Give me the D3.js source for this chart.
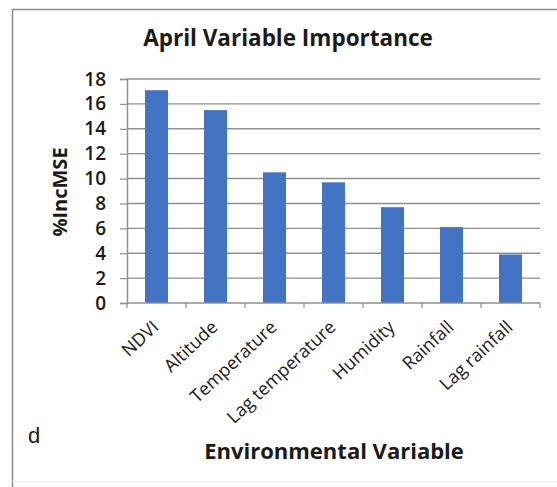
<!DOCTYPE html>
<html>
<head>
<meta charset="utf-8">
<script src="https://cdn.jsdelivr.net/npm/d3@7"></script>
<style>
  html, body { margin: 0; padding: 0; background: #fff; }
  svg { display: block; }
  text { font-family: "Open Sans", Lato, sans-serif; fill: #1a1a1a; }
</style>
</head>
<body>
<svg id="chart" width="557" height="487"></svg>
<script>
// April variable importance (%IncMSE) per environmental variable
const categories = ["NDVI", "Altitude", "Temperature", "Lag temperature", "Humidity", "Rainfall", "Lag rainfall"];
const incMSE = [17.1, 15.5, 10.5, 9.7, 7.7, 6.1, 3.9];
const yTicks = [0, 2, 4, 6, 8, 10, 12, 14, 16, 18];

const svg = d3.select("#chart");
const W = 557, H = 487;
const plot = { left: 127, right: 540, top: 79, bottom: 303 };
const axisGrey = "#8f8f8f";

// outer frame
svg.append("rect").attr("x", 0).attr("y", 0).attr("width", W).attr("height", H).attr("fill", "#fff");
svg.append("path")
  .attr("d", `M12.5,${H} V9.5 H${W}`)
  .attr("fill", "none").attr("stroke", "#8a8a8a").attr("stroke-width", 1.5);
svg.append("line")
  .attr("x1", 12).attr("x2", W).attr("y1", 481.5).attr("y2", 481.5)
  .attr("stroke", "#ececec").attr("stroke-width", 1);

const x = d3.scaleBand().domain(categories).range([plot.left, plot.right]).paddingInner(0.61).paddingOuter(0.305);
const y = d3.scaleLinear().domain([0, 18]).range([plot.bottom, plot.top]);

// horizontal gridlines
svg.append("g").selectAll("line").data(yTicks.filter(d => d > 0)).join("line")
  .attr("x1", plot.left).attr("x2", plot.right)
  .attr("y1", d => y(d)).attr("y2", d => y(d))
  .attr("stroke", axisGrey).attr("stroke-width", 1.4);

// bars
svg.append("g").selectAll("rect").data(incMSE).join("rect")
  .attr("x", (d, i) => x(categories[i]))
  .attr("width", x.bandwidth())
  .attr("y", d => y(d))
  .attr("height", d => y(0) - y(d))
  .attr("fill", "#4274c3");

// y axis
const yAxis = d3.axisLeft(y).tickValues(yTicks).tickSize(7).tickPadding(14).tickFormat(d3.format("d"));
const gy = svg.append("g").attr("transform", `translate(${plot.left},0)`).call(yAxis);
gy.select(".domain").attr("stroke", axisGrey).attr("stroke-width", 1.4);
gy.selectAll(".tick line").attr("stroke", axisGrey).attr("stroke-width", 1.2);
gy.selectAll(".tick text").style("font-size", "19px").style("font-weight", 600).attr("fill", "#1a1a1a");

// x axis: ticks sit between the categories
const step = x.step();
const sepTicks = d3.range(categories.length + 1).map(i => plot.left + i * step);
const gx = svg.append("g");
gx.append("line").attr("x1", plot.left).attr("x2", plot.right)
  .attr("y1", plot.bottom).attr("y2", plot.bottom)
  .attr("stroke", axisGrey).attr("stroke-width", 1.4);
gx.selectAll("line.sep").data(sepTicks).join("line").attr("class", "sep")
  .attr("x1", d => d).attr("x2", d => d)
  .attr("y1", plot.bottom).attr("y2", plot.bottom + 5)
  .attr("stroke", axisGrey).attr("stroke-width", 1.2);

gx.selectAll("text").data(categories).join("text")
  .attr("transform", d => `translate(${x(d) + x.bandwidth() / 2 - 1},${plot.bottom + 21}) rotate(-43)`)
  .attr("text-anchor", "end")
  .attr("dy", "0.35em")
  .style("font-size", "18px")
  .text(d => d);

// titles
svg.append("text").attr("x", 288).attr("y", 46).attr("text-anchor", "middle")
  .style("font-size", "22.5px").style("font-weight", "bold").text("April Variable Importance");
svg.append("text").attr("x", 334).attr("y", 459).attr("text-anchor", "middle")
  .style("font-size", "22px").style("font-weight", "bold").text("Environmental Variable");
svg.append("text").attr("transform", "translate(67,192) rotate(-90)").attr("text-anchor", "middle")
  .style("font-size", "20px").style("font-weight", "bold").text("%IncMSE");
svg.append("text").attr("x", 28).attr("y", 443)
  .style("font-family", "'Liberation Sans', Arial, sans-serif").style("font-size", "22px").text("d");
</script>
</body>
</html>
